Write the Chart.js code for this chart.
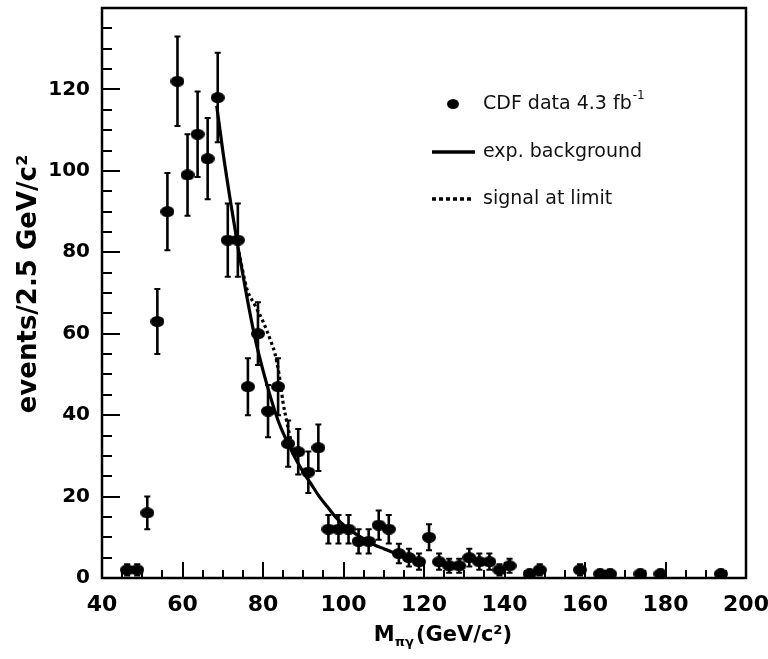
<!DOCTYPE html>
<html><head><meta charset="utf-8">
<script src="https://cdn.jsdelivr.net/npm/chart.js@4"></script>
<style>html,body{margin:0;padding:0;background:#fff;} #wrap{width:768px;height:659px;position:relative;}</style>
</head><body><div id="wrap"><canvas id="c" width="768" height="659"></canvas></div>
<script>
// ---- data ----
const massBins = [46.25, 48.75, 51.25, 53.75, 56.25, 58.75, 61.25, 63.75, 66.25, 68.75, 71.25, 73.75, 76.25, 78.75, 81.25, 83.75, 86.25, 88.75, 91.25, 93.75, 96.25, 98.75, 101.25, 103.75, 106.25, 108.75, 111.25, 113.75, 116.25, 118.75, 121.25, 123.75, 126.25, 128.75, 131.25, 133.75, 136.25, 138.75, 141.25, 146.25, 148.75, 158.75, 163.75, 166.25, 173.75, 178.75, 193.75];
const events = [2, 2, 16, 63, 90, 122, 99, 109, 103, 118, 83, 83, 47, 60, 41, 47, 33, 31, 26, 32, 12, 12, 12, 9, 9, 13, 12, 6, 5, 4, 10, 4, 3, 3, 5, 4, 4, 2, 3, 1, 2, 2, 1, 1, 1, 1, 1];
const eventErrors = [1.4, 1.4, 4, 8, 9.5, 11, 10, 10.5, 10, 11, 9, 9, 7, 7.7, 6.4, 7, 5.7, 5.6, 5.1, 5.7, 3.5, 3.5, 3.5, 3, 3, 3.6, 3.5, 2.4, 2.2, 2, 3.2, 2, 1.7, 1.7, 2.2, 2, 2, 1.4, 1.7, 1, 1.4, 1.4, 1, 1, 1, 1, 1];
const bgMass = [68.5, 70, 72, 74, 76, 78, 80, 82, 84, 86, 88, 90, 92, 94, 96, 98, 100, 102, 104, 106, 108, 110, 112, 114, 116, 118, 120];
const bgEvents = [116, 105, 92, 80, 69, 59, 51, 44, 38, 33.5, 29.5, 26, 23, 20, 17.5, 15, 13, 11.5, 10.2, 9, 8, 7.2, 6.4, 5.7, 5, 4.4, 3.8];
const sigMass = [74, 76, 78, 80, 82, 83, 84, 85, 86, 87, 88, 89];
const sigEvents = [80, 71, 67, 63, 58, 55, 50, 43, 38, 33.5, 30, 27.8];
const xTickLabels = [40, 60, 80, 100, 120, 140, 160, 180, 200];
const yTickLabels = [0, 20, 40, 60, 80, 100, 120];
const legendLabels = ['CDF data 4.3 fb', 'exp. background', 'signal at limit'];
const legendSup = '-1';
const yTitle = '  events/2.5 GeV/c\u00B2';
const xTitleMain = 'M', xTitleSub = '\u03C0\u03B3', xTitleRest = '(GeV/c\u00B2)';

// ---- marker image ----
const mk = document.createElement('canvas');
mk.width = 14; mk.height = 11;
(function(){ const g = mk.getContext('2d'); g.fillStyle = '#000'; g.beginPath(); g.ellipse(7, 5.5, 7, 5.5, 0, 0, 2 * Math.PI); g.fill(); })();

const FONT = "'DejaVu Sans', sans-serif";

const deco = {
  id: 'deco',
  beforeDatasetsDraw(chart) {
    const ctx = chart.ctx, xs = chart.scales.x, ys = chart.scales.y;
    ctx.save();
    ctx.strokeStyle = '#000';
    ctx.lineCap = 'butt';
    for (let i = 0; i < massBins.length; i++) {
      const x = xs.getPixelForValue(massBins[i]);
      const yt = ys.getPixelForValue(events[i] + eventErrors[i]);
      const yb = ys.getPixelForValue(Math.max(0, events[i] - eventErrors[i]));
      ctx.lineWidth = 2.6;
      ctx.beginPath(); ctx.moveTo(x, yt); ctx.lineTo(x, yb); ctx.stroke();
      ctx.lineWidth = 2;
      ctx.beginPath(); ctx.moveTo(x - 3, yt); ctx.lineTo(x + 3, yt); ctx.moveTo(x - 3, yb); ctx.lineTo(x + 3, yb); ctx.stroke();
    }
    ctx.restore();
  },
  afterDraw(chart) {
    const ctx = chart.ctx, xs = chart.scales.x, ys = chart.scales.y, a = chart.chartArea;
    ctx.save();
    ctx.strokeStyle = '#000';
    // ticks (inward)
    ctx.lineWidth = 2;
    ctx.beginPath();
    for (let v = ys.min; v <= ys.max + 1e-6; v += 5) {
      const y = Math.round(ys.getPixelForValue(v));
      const len = (v % 20 === 0) ? 18 : 10;
      ctx.moveTo(a.left, y); ctx.lineTo(a.left + len, y);
    }
    for (let v = xs.min; v <= xs.max + 1e-6; v += 5) {
      const x = Math.round(xs.getPixelForValue(v));
      const len = (v % 20 === 0) ? 16 : 8;
      ctx.moveTo(x, a.bottom); ctx.lineTo(x, a.bottom - len);
    }
    ctx.stroke();
    // frame
    ctx.lineWidth = 2.5;
    ctx.strokeRect(a.left, a.top, a.right - a.left, a.bottom - a.top);
    // legend
    ctx.fillStyle = '#111';
    ctx.font = '19px ' + FONT;
    ctx.textBaseline = 'middle';
    ctx.textAlign = 'left';
    ctx.drawImage(mk, 453 - 6, 104 - 5, 12, 10);
    ctx.fillText(legendLabels[0], 483, 104);
    const w0 = ctx.measureText(legendLabels[0]).width;
    ctx.font = '12px ' + FONT;
    ctx.fillText(legendSup, 483 + w0 + 1, 96);
    ctx.font = '19px ' + FONT;
    ctx.lineWidth = 3.5;
    ctx.beginPath(); ctx.moveTo(432, 152); ctx.lineTo(475, 152); ctx.stroke();
    ctx.fillText(legendLabels[1], 483, 152);
    ctx.setLineDash([4, 3]);
    ctx.beginPath(); ctx.moveTo(432, 199); ctx.lineTo(473, 199); ctx.stroke();
    ctx.setLineDash([]);
    ctx.fillText(legendLabels[2], 483, 199);
    // x title with subscript
    const big = 'bold 21px ' + FONT, small = 'bold 13px ' + FONT;
    ctx.font = big; const wM = ctx.measureText(xTitleMain).width; const wR = ctx.measureText(xTitleRest).width;
    ctx.font = small; const wS = ctx.measureText(xTitleSub).width;
    const total = wM + wS + 2 + wR;
    let x0 = 443 - total / 2;
    const yb = 641;
    ctx.textBaseline = 'alphabetic';
    ctx.fillStyle = '#000';
    ctx.font = big; ctx.fillText(xTitleMain, x0, yb);
    ctx.font = small; ctx.fillText(xTitleSub, x0 + wM, yb + 5);
    ctx.font = big; ctx.fillText(xTitleRest, x0 + wM + wS + 2, yb);
    ctx.restore();
  }
};

new Chart(document.getElementById('c'), {
  type: 'scatter',
  data: {
    datasets: [
      { label: legendLabels[0], data: massBins.map((m, i) => ({x: m, y: events[i]})),
        pointStyle: mk, pointRadius: 6, showLine: false, order: 2 },
      { label: legendLabels[1], data: bgMass.map((m, i) => ({x: m, y: bgEvents[i]})),
        showLine: true, pointRadius: 0, borderColor: '#000', borderWidth: 3.2, cubicInterpolationMode: 'monotone', order: 1 },
      { label: legendLabels[2], data: sigMass.map((m, i) => ({x: m, y: sigEvents[i]})),
        showLine: true, pointRadius: 0, borderColor: '#000', borderWidth: 3.2, borderDash: [3, 3], cubicInterpolationMode: 'monotone', order: 0 }
    ]
  },
  options: {
    responsive: false,
    animation: false,
    events: [],
    layout: { padding: { top: 8, right: 22, left: 0, bottom: 0 } },
    plugins: { legend: { display: false }, tooltip: { enabled: false } },
    scales: {
      x: {
        type: 'linear', min: 40, max: 200,
        grid: { display: false, drawTicks: false },
        border: { display: false },
        ticks: { stepSize: 20, padding: 14, color: '#000', font: { family: FONT, size: 22, weight: 'bold' },
          maxRotation: 0, autoSkip: false,
          callback: v => xTickLabels.includes(v) ? String(v) : '' },
        afterFit: s => { s.height = 81; s.paddingLeft = 0; s.paddingRight = 0; }
      },
      y: {
        type: 'linear', min: 0, max: 140,
        grid: { display: false, drawTicks: false },
        border: { display: false },
        ticks: { stepSize: 20, padding: 12, color: '#000', font: { family: FONT, size: 20, weight: 'bold' },
          callback: v => yTickLabels.includes(v) ? String(v) : '' },
        title: { display: true, text: yTitle, color: '#000', font: { family: FONT, size: 26, weight: 'bold' }, padding: { top: 14, bottom: 0 } },
        afterFit: s => { s.width = 102; s.paddingTop = 0; s.paddingBottom = 0; }
      }
    }
  },
  plugins: [deco]
});
</script></body></html>
